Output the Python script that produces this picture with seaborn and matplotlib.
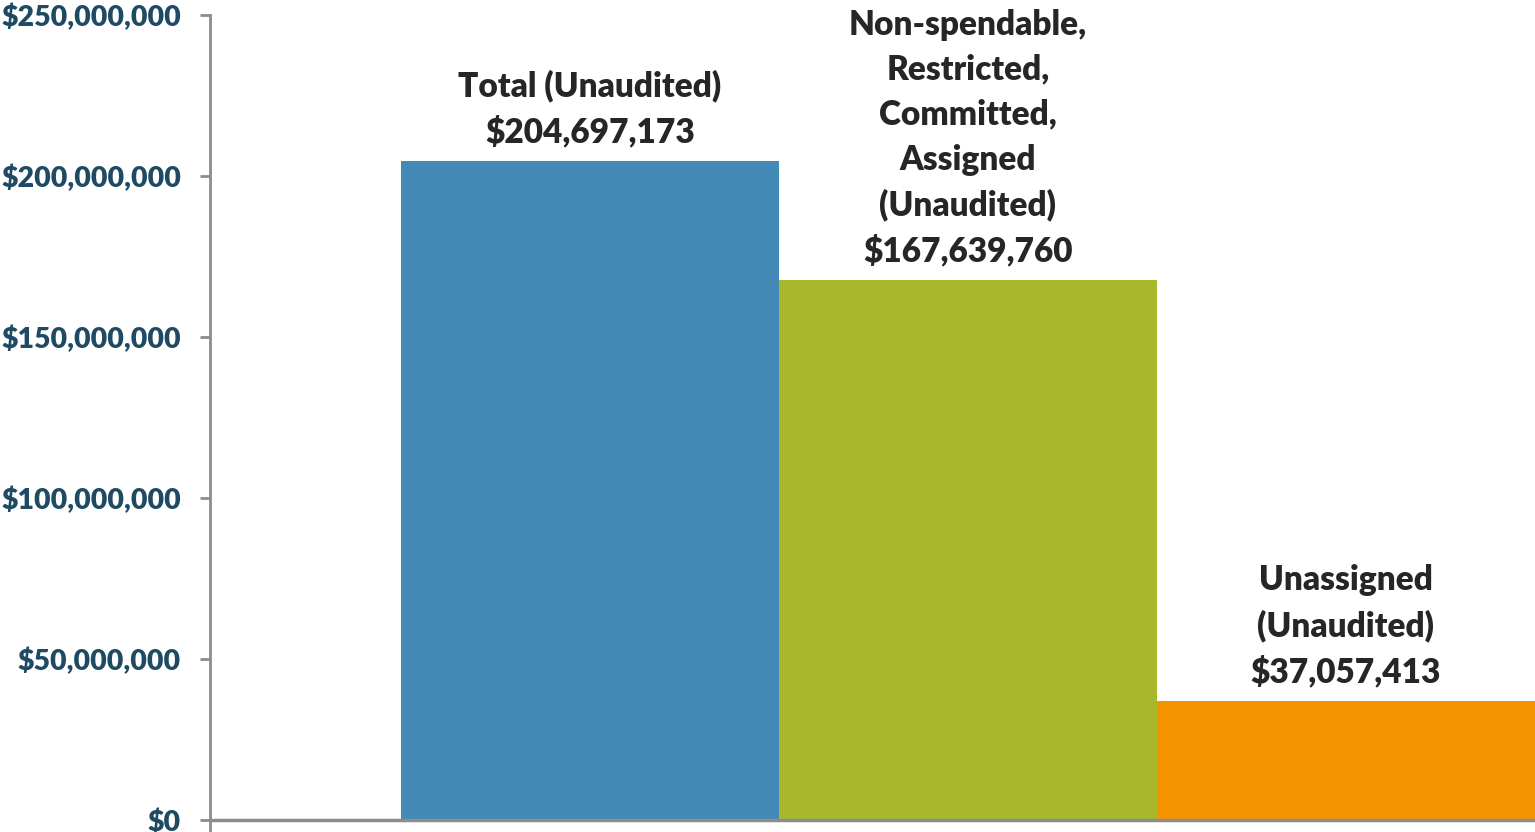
import matplotlib
matplotlib.use("Agg")
import matplotlib.pyplot as plt
from matplotlib.ticker import FuncFormatter
import seaborn as sns
import pandas as pd

categories = ["Total", "Non-spendable, Restricted, Committed, Assigned", "Unassigned"]
label_names = ["Total (Unaudited)",
               "Non-spendable,\nRestricted,\nCommitted,\nAssigned\n(Unaudited)",
               "Unassigned\n(Unaudited)"]
values = [204697173, 167639760, 37057413]
colors = ["#428AB5", "#A7B92A", "#F49300"]
yticks = [0, 50e6, 100e6, 150e6, 200e6, 250e6]

sns.set_theme(style="white")
plt.rcParams['font.family'] = ['Lato', 'DejaVu Sans']

df = pd.DataFrame({"category": categories, "value": values})

fig = plt.figure(figsize=(15.35, 8.32), dpi=100)
ax = fig.add_axes([210 / 1535, 0.0, 1 - 210 / 1535, 1 - 15 / 832])

sns.barplot(data=df, x="category", y="value", hue="category", palette=colors,
            width=1.0, legend=False, ax=ax, saturation=1, edgecolor="none")

ax.set_xlim(-1.005, 2.5)
ax.set_ylim(-250e6 * 12 / 805, 250e6)
ax.set_yticks(yticks)
ax.yaxis.set_major_formatter(FuncFormatter(lambda v, p: f"${v:,.0f}"))

for s in ["top", "right", "bottom"]:
    ax.spines[s].set_visible(False)
ax.spines["left"].set_color("#8C8C8C")
ax.spines["left"].set_linewidth(2)
ax.axhline(0, color="#8C8C8C", linewidth=2.5, zorder=3)

ax.tick_params(axis="y", which="major", left=True, length=7, width=2, color="#8C8C8C",
               pad=14, labelsize=20.5, labelcolor="#1F4A63")
for t in ax.get_yticklabels():
    t.set_fontweight("heavy")
ax.set_xticks([])
ax.set_xlabel("")
ax.set_ylabel("")

for i, (name, v) in enumerate(zip(label_names, values)):
    ax.annotate(f"{name}\n${v:,.0f}", xy=(i, v), xytext=(0, 9), textcoords="offset points",
                ha="center", va="bottom", fontsize=24, fontweight="heavy", color="#262626",
                linespacing=1.5)

fig.savefig("out.png", dpi=100)
